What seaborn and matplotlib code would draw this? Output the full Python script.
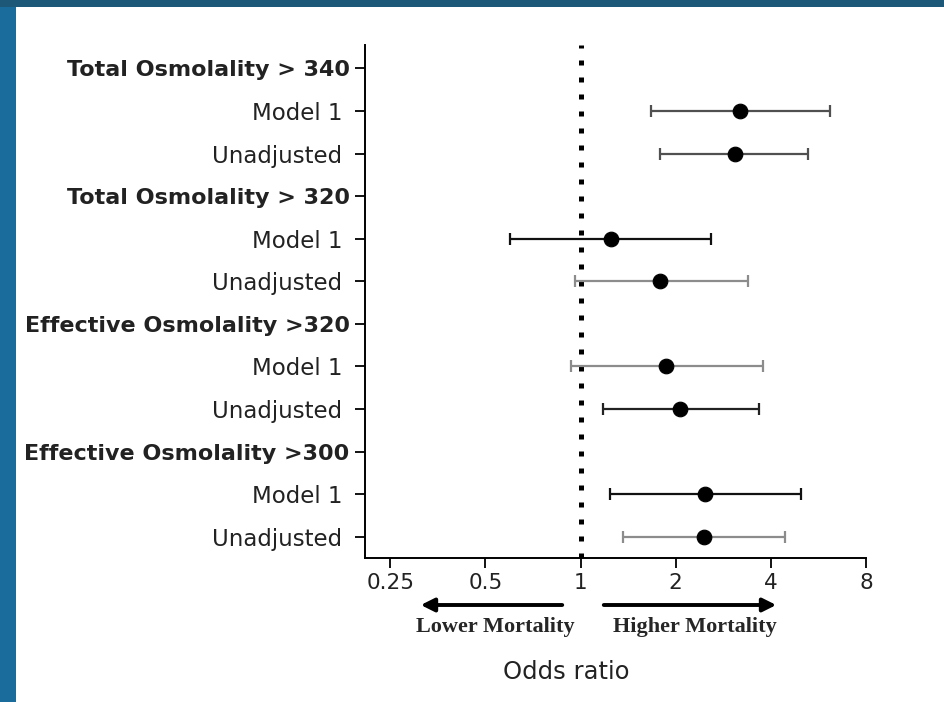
import matplotlib
matplotlib.use("Agg")
import matplotlib.pyplot as plt
import matplotlib.patches as mpatches
import numpy as np
import pandas as pd
import seaborn as sns

# rows, top to bottom
labels = [
    "Total Osmolality > 340", "Model 1 ", "Unadjusted ",
    "Total Osmolality > 320", "Model 1 ", "Unadjusted ",
    "Effective Osmolality >320", "Model 1 ", "Unadjusted ",
    "Effective Osmolality >300", "Model 1 ", "Unadjusted ",
]
is_header = [True, False, False, True, False, False,
             True, False, False, True, False, False]

# odds ratio estimates and 95% CI (nan for header rows)
odds = [np.nan, 3.19, 3.08, np.nan, 1.25, 1.78,
        np.nan, 1.86, 2.07, np.nan, 2.47, 2.45]
ci_low = [np.nan, 1.67, 1.79, np.nan, 0.60, 0.96,
          np.nan, 0.93, 1.18, np.nan, 1.24, 1.36]
ci_high = [np.nan, 6.15, 5.24, np.nan, 2.58, 3.38,
           np.nan, 3.77, 3.66, np.nan, 4.98, 4.43]
bar_color = [None, "#505050", "#505050", None, "#111111", "#8c8c8c",
             None, "#8c8c8c", "#222222", None, "#111111", "#8c8c8c"]

x_ticks = [0.25, 0.5, 1, 2, 4, 8]
x_ticklabels = ["0.25", "0.5", "1", "2", "4", "8"]

df = pd.DataFrame({
    "label": labels,
    "row": np.arange(len(labels)),
    "odds": odds,
    "low": ci_low,
    "high": ci_high,
    "color": bar_color,
})

sns.set_theme(style="ticks")
plt.rcParams["font.family"] = ["DejaVu Sans"]

fig = plt.figure(figsize=(9.44, 7.02), dpi=100)
fig.patch.set_facecolor("#1a6c9c")
# darker band along the top, white slide panel
fig.patches.append(mpatches.Rectangle((0, 1 - 7 / 702), 1, 7 / 702,
                                      transform=fig.transFigure,
                                      facecolor="#1d5878", edgecolor="none",
                                      zorder=-6))
fig.patches.append(mpatches.Rectangle((16 / 944, 0), 1, 1 - 7 / 702,
                                      transform=fig.transFigure,
                                      facecolor="white", edgecolor="none",
                                      zorder=-5))

ax = fig.add_axes([365 / 944, 1 - 558 / 702, (866 - 365) / 944, (558 - 45) / 702])
ax.set_facecolor("white")
ax.set_zorder(2)

# reference line at OR = 1
ax.axvline(1, color="black", linewidth=3.6, linestyle=(0, (1, 2.4)), zorder=1)

data = df.dropna(subset=["odds"])
for _, r in data.iterrows():
    ax.errorbar(r["odds"], r["row"],
                xerr=[[r["odds"] - r["low"]], [r["high"] - r["odds"]]],
                fmt="none", ecolor=r["color"], elinewidth=1.6,
                capsize=4.5, capthick=1.6, zorder=2)

sns.scatterplot(data=data, x="odds", y="row", ax=ax, color="black",
                s=110, edgecolor="black", zorder=3, legend=False)

ax.set_xscale("log", base=2)
ax.set_xlim(0.208, 8)
ax.set_ylim(len(labels) - 0.5, -0.55)
ax.set_xticks(x_ticks)
ax.set_xticklabels(x_ticklabels)
ax.minorticks_off()
ax.set_yticks(df["row"])
ax.set_yticklabels(df["label"])
for t, h in zip(ax.get_yticklabels(), is_header):
    if h:
        t.set_fontweight("bold")
        t.set_fontsize(16)
        t.set_color("#222222")
    else:
        t.set_fontsize(16.5)
        t.set_color("#222222")
for t in ax.get_xticklabels():
    t.set_fontsize(15.5)
    t.set_color("#222222")

ax.tick_params(axis="both", direction="out", length=7, width=1.3, color="black", pad=4)
ax.set_xlabel("")
ax.set_ylabel("")
sns.despine(ax=ax)
for s in ["left", "bottom"]:
    ax.spines[s].set_linewidth(1.4)
    ax.spines[s].set_color("black")

# direction arrows
fig.patches.append(mpatches.FancyArrowPatch(
    (565 / 944, 1 - 605 / 702), (418 / 944, 1 - 605 / 702),
    transform=fig.transFigure, arrowstyle="-|>", mutation_scale=20,
    linewidth=2.8, color="black"))
fig.patches.append(mpatches.FancyArrowPatch(
    (601 / 944, 1 - 605 / 702), (779 / 944, 1 - 605 / 702),
    transform=fig.transFigure, arrowstyle="-|>", mutation_scale=20,
    linewidth=2.8, color="black"))
fig.text(495 / 944, 1 - 627 / 702, "Lower Mortality", ha="center", va="center",
         fontsize=16, fontweight="bold", family="Liberation Serif")
fig.text(695 / 944, 1 - 627 / 702, "Higher Mortality", ha="center", va="center",
         fontsize=16, fontweight="bold", family="Liberation Serif")
fig.text(566 / 944, 1 - 672 / 702, "Odds ratio", ha="center", va="center",
         fontsize=17.5, color="#222222")

fig.savefig("out.png", dpi=100, facecolor=fig.get_facecolor())
